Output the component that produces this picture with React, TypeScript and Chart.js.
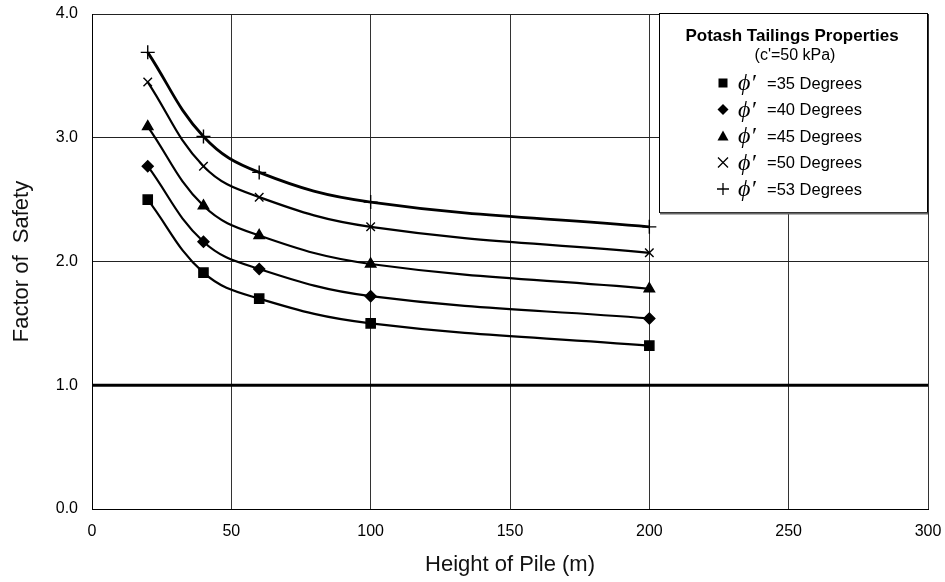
import React, { useEffect, useRef } from 'react';
import { Chart, registerables } from 'chart.js';

Chart.register(...registerables);

// ---- data ----
const heights = [20, 40, 60, 100, 200];
const phi35 = [2.5, 1.91, 1.7, 1.5, 1.32];
const phi40 = [2.77, 2.16, 1.94, 1.72, 1.54];
const phi45 = [3.09, 2.45, 2.21, 1.98, 1.78];
const phi50 = [3.45, 2.77, 2.52, 2.28, 2.07];
const phi53 = [3.69, 3.01, 2.72, 2.48, 2.28];
const seriesLabels = ['=35 Degrees', '=40 Degrees', '=45 Degrees', '=50 Degrees', '=53 Degrees'];
const pointStyles = ['rect', 'rectRot', 'triangle', 'crossRot', 'cross'];
const legendTitle = 'Potash Tailings Properties';
const legendSubtitle = "(c'=50 kPa)";
const phiSymbol = 'ϕ′';
const xTitle = 'Height of Pile (m)';
const yTitle = 'Factor of  Safety';
const referenceLine = [
  { x: 0, y: 1 },
  { x: 300, y: 1 },
];

const FONT = '"Liberation Sans", Arial, Helvetica, sans-serif';

function drawMarker(ctx: CanvasRenderingContext2D, style: string, x: number, y: number) {
  ctx.save();
  ctx.fillStyle = '#000';
  ctx.strokeStyle = '#000';
  ctx.lineWidth = 1.3;
  ctx.beginPath();
  if (style === 'rect') {
    ctx.fillRect(x - 4.5, y - 4.5, 9, 9);
  } else if (style === 'rectRot') {
    ctx.moveTo(x, y - 5.5);
    ctx.lineTo(x + 5.5, y);
    ctx.lineTo(x, y + 5.5);
    ctx.lineTo(x - 5.5, y);
    ctx.closePath();
    ctx.fill();
  } else if (style === 'triangle') {
    ctx.moveTo(x, y - 5.5);
    ctx.lineTo(x + 5.5, y + 4.5);
    ctx.lineTo(x - 5.5, y + 4.5);
    ctx.closePath();
    ctx.fill();
  } else if (style === 'crossRot') {
    ctx.moveTo(x - 5, y - 5);
    ctx.lineTo(x + 5, y + 5);
    ctx.moveTo(x + 5, y - 5);
    ctx.lineTo(x - 5, y + 5);
    ctx.stroke();
  } else {
    ctx.moveTo(x - 6, y);
    ctx.lineTo(x + 6, y);
    ctx.moveTo(x, y - 6);
    ctx.lineTo(x, y + 6);
    ctx.stroke();
  }
  ctx.restore();
}

const legendBoxPlugin = {
  id: 'legendBox',
  afterDraw(chart: any) {
    const { ctx, chartArea } = chart;
    const w = 268;
    const h = 199;
    const x = Math.round(chartArea.right) - 1 - w;
    const y = Math.round(chartArea.top) - 1;
    ctx.save();
    ctx.fillStyle = '#fff';
    ctx.fillRect(x, y, w, h);
    ctx.strokeStyle = '#000';
    ctx.lineWidth = 1;
    ctx.strokeRect(x + 0.5, y + 0.5, w, h);
    ctx.strokeStyle = '#666';
    ctx.lineWidth = 2;
    ctx.beginPath();
    ctx.moveTo(x + 1, y + h + 1.5);
    ctx.lineTo(x + w + 1, y + h + 1.5);
    ctx.stroke();

    ctx.fillStyle = '#000';
    ctx.textAlign = 'center';
    ctx.textBaseline = 'middle';
    ctx.font = `bold 17px ${FONT}`;
    ctx.fillText(legendTitle, x + 133, y + 23);
    ctx.font = `16px ${FONT}`;
    ctx.fillText(legendSubtitle, x + 136, y + 43);

    for (let i = 0; i < seriesLabels.length; i++) {
      const ry = y + 70 + 26.5 * i;
      drawMarker(ctx, pointStyles[i], x + 64, ry);
      ctx.textAlign = 'left';
      ctx.font = `italic 24px "Liberation Serif", "DejaVu Serif", serif`;
      ctx.fillText(phiSymbol, x + 79, ry + 1);
      ctx.font = `16.5px ${FONT}`;
      ctx.fillText(seriesLabels[i], x + 108, ry + 1);
    }
    ctx.restore();
  },
};

export default function App() {
  const canvasRef = useRef<HTMLCanvasElement | null>(null);

  useEffect(() => {
    document.body.style.margin = '0';
    const canvas = canvasRef.current;
    if (!canvas) return;
    const series = [phi35, phi40, phi45, phi50, phi53];
    const radii = [6.5, 5.5, 6, 6, 7];
    const datasets: any[] = series.map((vals, i) => ({
      label: seriesLabels[i],
      data: heights.map((h, j) => ({ x: h, y: vals[j] })),
      borderColor: '#000',
      backgroundColor: '#000',
      borderWidth: i === 4 ? 2.8 : 2.2,
      tension: 0.4,
      pointStyle: pointStyles[i],
      pointRadius: radii[i],
      pointBorderWidth: 1.4,
      pointBackgroundColor: '#000',
      pointBorderColor: '#000',
      fill: false,
    }));
    datasets.push({
      label: 'FS = 1.0',
      data: referenceLine,
      borderColor: '#000',
      borderWidth: 3,
      pointRadius: 0,
      fill: false,
    });

    const chart = new Chart(canvas, {
      type: 'line',
      data: { datasets },
      options: {
        animation: false,
        responsive: false,
        devicePixelRatio: 1,
        layout: { padding: { left: 0, right: 17, top: 14, bottom: 0 } },
        plugins: {
          legend: { display: false },
          tooltip: { enabled: false },
        },
        scales: {
          x: {
            type: 'linear',
            min: 0,
            max: 300,
            afterFit: (scale: any) => {
              scale.height = 73;
              scale.paddingLeft = 0;
              scale.paddingRight = 0;
            },
            ticks: {
              stepSize: 50,
              padding: 13,
              color: '#000',
              font: { family: FONT, size: 16 },
            },
            grid: { color: '#333', lineWidth: 1, drawTicks: false },
            border: { display: true, color: '#000', width: 1 },
            title: {
              display: true,
              text: xTitle,
              color: '#111',
              font: { family: FONT, size: 22 },
              padding: { top: 0, bottom: 4 },
            },
          },
          y: {
            type: 'linear',
            min: 0,
            max: 4,
            afterFit: (scale: any) => {
              scale.width = 92;
              scale.paddingTop = 0;
              scale.paddingBottom = 0;
            },
            ticks: {
              stepSize: 1,
              padding: 14,
              color: '#000',
              font: { family: FONT, size: 16 },
              callback: (v: any) => Number(v).toFixed(1),
            },
            grid: { color: '#222', lineWidth: 1, drawTicks: false },
            border: { display: true, color: '#000', width: 1 },
            title: {
              display: true,
              text: yTitle,
              color: '#111',
              font: { family: FONT, size: 22 },
              padding: { top: 9, bottom: 0 },
            },
          },
        },
      } as any,
      plugins: [legendBoxPlugin],
    });
    return () => chart.destroy();
  }, []);

  return (
    <div style={{ width: 945, height: 582, background: '#fff' }}>
      <canvas ref={canvasRef} width={945} height={582} style={{ display: 'block', width: 945, height: 582 }} />
    </div>
  );
}
